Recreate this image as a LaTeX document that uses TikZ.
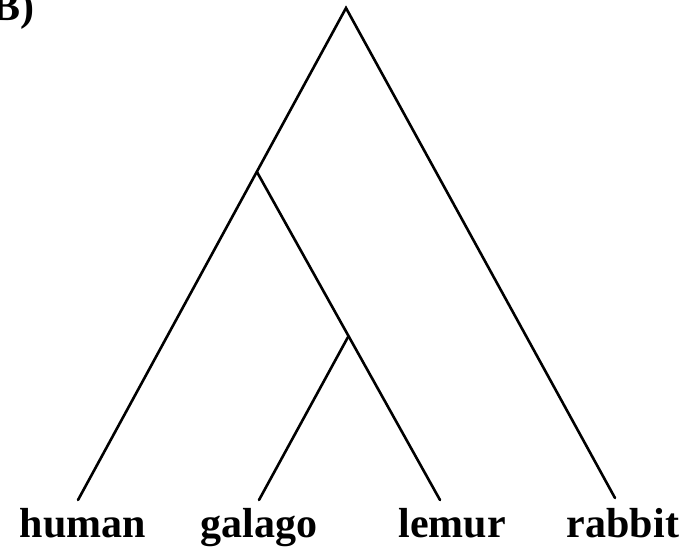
\documentclass[tikz,border=0pt]{standalone}
\usepackage{fontspec}
\setmainfont{Liberation Serif}
\begin{document}
\begin{tikzpicture}[x=1pt,y=-1pt,
  branch/.style={line width=2.6pt,line cap=round},
  taxon/.style={font=\fontsize{42}{42}\selectfont\bfseries,anchor=base,inner sep=0pt}]
\useasboundingbox (0,0) rectangle (699,547);
\begin{scope}
\clip (0,0) rectangle (699,547);
\node[taxon,anchor=base west] (panel) at (-8,20) {B)};
\end{scope}
% tree nodes
\coordinate (root) at (346,8);
\coordinate (anc1) at (257,172);
\coordinate (anc2) at (348,337);
\coordinate (lhuman) at (78,500);
\coordinate (lgalago) at (259,500);
\coordinate (llemur) at (440,500);
\coordinate (lrabbit) at (615,498);
% branches
\draw[branch] (lhuman) -- (root) -- (lrabbit);
\draw[branch] (anc1) -- (llemur);
\draw[branch] (anc2) -- (lgalago);
% labels
\node[taxon] (human) at (83,537) {human};
\node[taxon] (galago) at (259,537) {galago};
\node[taxon] (lemur) at (452,537) {lemur};
\node[taxon] (rabbit) at (623,537) {rabbit};
\end{tikzpicture}
\end{document}
